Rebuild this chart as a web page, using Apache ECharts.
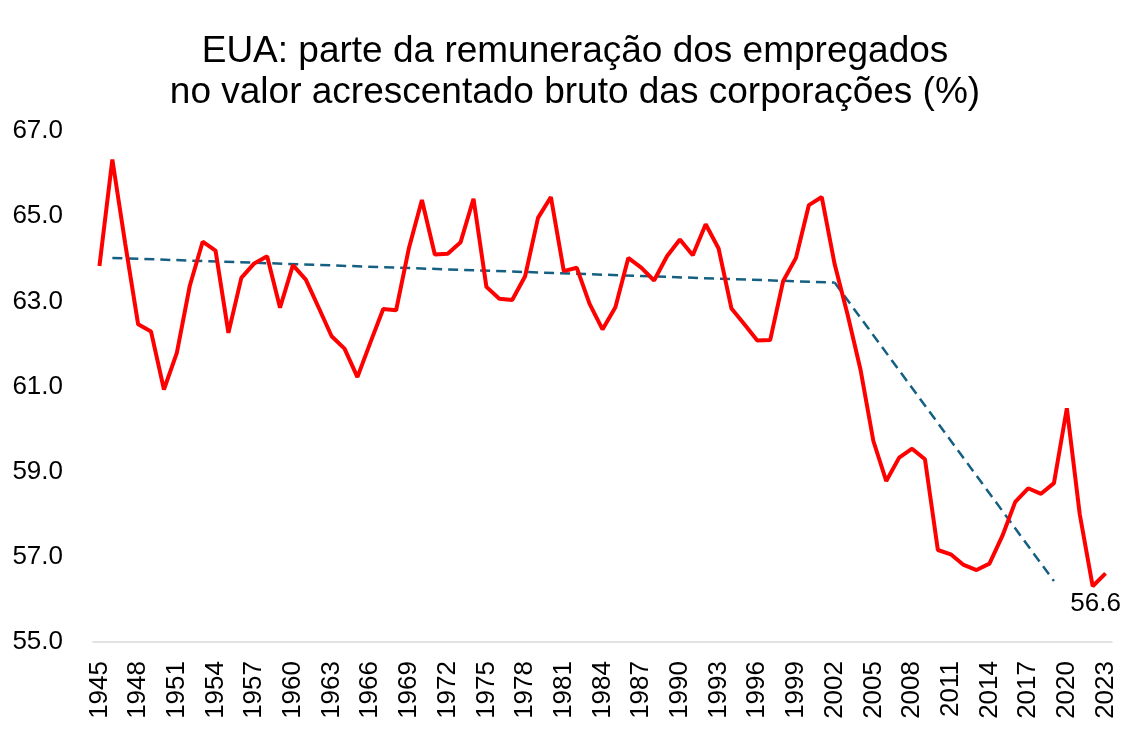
<!DOCTYPE html>
<html>
<head>
<meta charset="utf-8">
<script src="https://cdn.jsdelivr.net/npm/echarts@6/dist/echarts.min.js"></script>
<style>
html,body{margin:0;padding:0;background:#fff;}
#chart{width:1129px;height:734px;}
</style>
</head>
<body>
<div id="chart"></div>
<script>
// Categories: years 1945..2023
const years = ["1945","1946","1947","1948","1949","1950","1951","1952","1953","1954",
"1955","1956","1957","1958","1959","1960","1961","1962","1963","1964",
"1965","1966","1967","1968","1969","1970","1971","1972","1973","1974",
"1975","1976","1977","1978","1979","1980","1981","1982","1983","1984",
"1985","1986","1987","1988","1989","1990","1991","1992","1993","1994",
"1995","1996","1997","1998","1999","2000","2001","2002","2003","2004",
"2005","2006","2007","2008","2009","2010","2011","2012","2013","2014",
"2015","2016","2017","2018","2019","2020","2021","2022","2023"];

// Compensation share (%)
const share = [63.83,66.33,64.35,62.46,62.29,60.93,61.79,63.36,64.40,64.19,
62.26,63.55,63.89,64.06,62.85,63.85,63.51,62.85,62.18,61.89,
61.22,62.03,62.82,62.79,64.26,65.38,64.10,64.12,64.39,65.41,
63.34,63.06,63.03,63.59,64.96,65.45,63.71,63.79,62.94,62.34,
62.86,64.02,63.79,63.49,64.06,64.45,64.08,64.81,64.24,62.83,
62.46,62.08,62.09,63.47,64.02,65.26,65.45,63.87,62.69,61.40,
59.72,58.78,59.33,59.54,59.29,57.16,57.06,56.81,56.69,56.84,
57.49,58.29,58.61,58.48,58.73,60.49,58.00,56.31,56.61];

// Trend segments (endpoints)
const trend1 = [["1946", 64.02], ["2002", 63.44]];
const trend2 = [["2002", 63.44], ["2019", 56.43]];

const lastLabel = "56.6";

const FONT = "Liberation Sans, Arial, sans-serif";
const chart = echarts.init(document.getElementById('chart'), null, {renderer: 'canvas'});

const lastPoint = [[years[years.length - 1], share[share.length - 1]]];

chart.setOption({
  animation: false,
  backgroundColor: '#fff',
  title: {
    text: 'EUA: parte da remuneração dos empregados\nno valor acrescentado bruto das corporações (%)',
    left: 570, textAlign: 'center', top: 26,
    textStyle: {fontFamily: FONT, fontSize: 37, fontWeight: 'normal', color: '#000', lineHeight: 41}
  },
  grid: {left: 93, right: 17, top: 131, bottom: 92, containLabel: false},
  xAxis: {
    type: 'category', data: years, boundaryGap: true,
    axisLine: {show: true, lineStyle: {color: '#d9d9d9', width: 1.5}},
    axisTick: {show: false},
    axisLabel: {interval: 2, rotate: 90, fontSize: 26, color: '#000', fontFamily: FONT, margin: 19}
  },
  yAxis: {
    type: 'value', min: 55, max: 67, interval: 2,
    axisLine: {show: false}, axisTick: {show: false},
    splitLine: {show: false},
    axisLabel: {formatter: v => v.toFixed(1), fontSize: 26, color: '#000', fontFamily: FONT, margin: 30}
  },
  series: [
    {type: 'line', data: trend1, symbol: 'none', lineStyle: {color: '#156082', width: 2.5, type: [10, 6]}, z: 1},
    {type: 'line', data: trend2, symbol: 'none', lineStyle: {color: '#156082', width: 2.5, type: [10, 6]}, z: 1},
    {type: 'line', data: share, symbol: 'none',
     lineStyle: {color: '#ff0000', width: 4}, z: 2},
    {type: 'scatter', data: lastPoint, symbolSize: 0, itemStyle: {color: '#ff0000', opacity: 1}, z: 3,
     label: {show: true, formatter: lastLabel, position: 'bottom', offset: [-10, 12], opacity: 1,
       fontSize: 26, color: '#000000', fontFamily: FONT, textBorderWidth: 0}}
  ]
});
</script>
</body>
</html>
